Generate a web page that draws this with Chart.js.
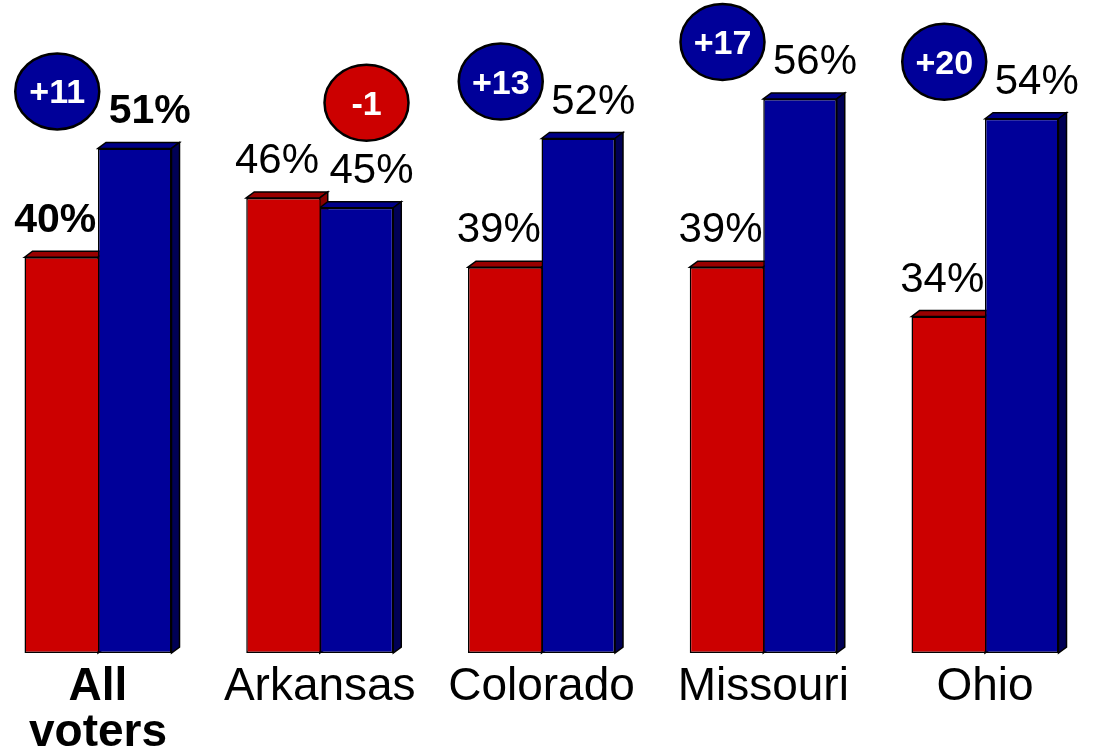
<!DOCTYPE html>
<html>
<head>
<meta charset="utf-8">
<script src="https://cdn.jsdelivr.net/npm/chart.js@4.4.1/dist/chart.umd.min.js"></script>
<style>
  html, body { margin: 0; padding: 0; background: #fff; }
  #wrap { width: 1094px; height: 755px; }
</style>
</head>
<body>
<div id="wrap"><canvas id="chart"></canvas></div>
<script>
const categories = [['All', 'voters'], 'Arkansas', 'Colorado', 'Missouri', 'Ohio'];
const redValues = [40, 46, 39, 39, 34];
const blueValues = [51, 45, 52, 56, 54];
const yMax = 66;

const FONT = 'Arial, "Liberation Sans", sans-serif';
const RED = '#cc0000';
const BLUE = '#000099';
const DX = 8, DY = 6; // depth of the fake 3d

function poly(ctx, pts, fill) {
  ctx.beginPath();
  ctx.moveTo(pts[0][0], pts[0][1]);
  for (let k = 1; k < pts.length; k++) ctx.lineTo(pts[k][0], pts[k][1]);
  ctx.closePath();
  ctx.fillStyle = fill;
  ctx.fill();
  ctx.stroke();
}

// top and side faces, drawn before the fronts so the next bar covers them
const depthPlugin = {
  id: 'depth',
  beforeDatasetsDraw(chart) {
    const ctx = chart.ctx;
    ctx.save();
    ctx.lineWidth = 1.5;
    ctx.strokeStyle = '#000';
    chart.data.labels.forEach((_, i) => {
      chart.data.datasets.forEach((ds, d) => {
        const bar = chart.getDatasetMeta(d).data[i];
        const l = bar.x - bar.width / 2, r = bar.x + bar.width / 2;
        const t = bar.y, b = bar.base;
        poly(ctx, [[l, t], [l + DX, t - DY], [r + DX, t - DY], [r, t]], ds.topColor);
        poly(ctx, [[r, t], [r + DX, t - DY], [r + DX, b - DY], [r, b]], ds.sideColor);
      });
    });
    ctx.restore();
  }
};

const labelPlugin = {
  id: 'labels',
  afterDatasetsDraw(chart) {
    const ctx = chart.ctx;
    ctx.save();
    ctx.textAlign = 'center';
    ctx.textBaseline = 'alphabetic';
    ctx.fillStyle = '#000';
    const offsets = [-6, 15];
    chart.data.datasets.forEach((ds, d) => {
      chart.getDatasetMeta(d).data.forEach((bar, i) => {
        ctx.font = i === 0 ? 'bold 41px ' + FONT : '42px ' + FONT;
        ctx.fillText(ds.data[i] + '%', bar.x + offsets[d], bar.y - 25);
      });
    });

    // difference badges
    const redBars = chart.getDatasetMeta(0).data;
    const blueBars = chart.getDatasetMeta(1).data;
    categories.forEach((_, i) => {
      const diff = blueValues[i] - redValues[i];
      const blueShorter = blueValues[i] < redValues[i];
      const shorter = blueShorter ? blueBars[i] : redBars[i];
      const taller = blueShorter ? redBars[i] : blueBars[i];
      const cx = shorter.x + (blueShorter ? 10 : -4);
      const cy = Math.min(taller.y - 57, shorter.y - 105);
      ctx.beginPath();
      ctx.ellipse(cx, cy, 42, 38, 0, 0, Math.PI * 2);
      ctx.fillStyle = diff > 0 ? BLUE : RED;
      ctx.fill();
      ctx.lineWidth = 2.5;
      ctx.strokeStyle = '#000';
      ctx.stroke();
      ctx.fillStyle = '#fff';
      ctx.font = 'bold 34px ' + FONT;
      ctx.fillText((diff > 0 ? '+' : '') + diff, cx, cy + 12);
    });
    ctx.restore();
  }
};

new Chart(document.getElementById('chart'), {
  type: 'bar',
  data: {
    labels: categories,
    datasets: [
      {
        label: 'Red',
        data: redValues,
        backgroundColor: RED,
        topColor: '#990000',
        sideColor: '#880000',
        borderColor: '#000',
        borderWidth: { left: 1.5, top: 1.5, bottom: 1.5, right: 0 },
        borderSkipped: false
      },
      {
        label: 'Blue',
        data: blueValues,
        backgroundColor: BLUE,
        topColor: '#000088',
        sideColor: '#000055',
        borderColor: '#000',
        borderWidth: 1.5,
        borderSkipped: false
      }
    ]
  },
  options: {
    responsive: true,
    maintainAspectRatio: false,
    animation: false,
    layout: { padding: { left: 98, right: 109, top: 0, bottom: -12 } },
    datasets: { bar: { barPercentage: 1, categoryPercentage: 0.663, clip: false } },
    plugins: { legend: { display: false }, tooltip: { enabled: false } },
    scales: {
      x: {
        offset: false,
        grid: { display: false, drawTicks: false },
        border: { display: false },
        ticks: {
          color: '#000',
          padding: 11,
          autoSkip: false,
          maxRotation: 0,
          font: (c) => ({ family: FONT, size: 46, lineHeight: 1, weight: c.index === 0 ? 'bold' : 'normal' })
        }
      },
      y: { display: false, min: 0, max: yMax }
    }
  },
  plugins: [depthPlugin, labelPlugin]
});
</script>
</body>
</html>
